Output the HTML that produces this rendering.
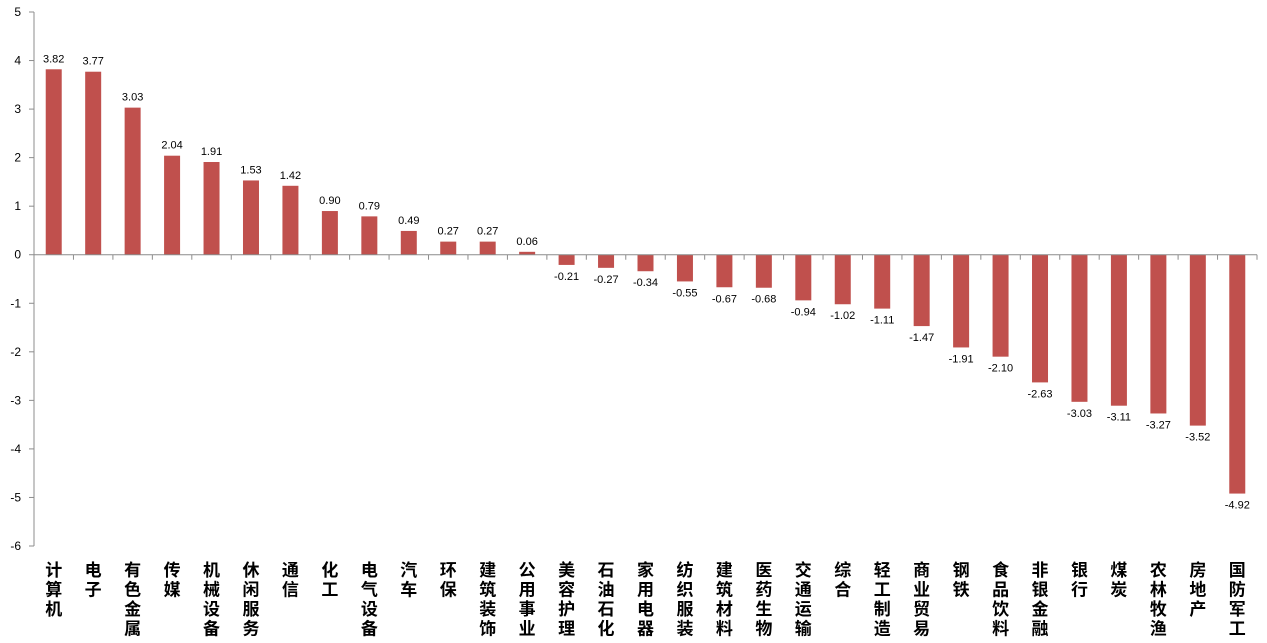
<!DOCTYPE html>
<html><head><meta charset="utf-8"><style>
body{margin:0;background:#fff;}
svg{display:block;font-family:"Liberation Sans","Noto Sans CJK SC",sans-serif;}
</style></head><body>
<svg id="chart" width="1267" height="643" viewBox="0 0 1267 643"></svg>
<script>
const categories=["计算机","电子","有色金属","传媒","机械设备","休闲服务","通信","化工","电气设备","汽车","环保","建筑装饰","公用事业","美容护理","石油石化","家用电器","纺织服装","建筑材料","医药生物","交通运输","综合","轻工制造","商业贸易","钢铁","食品饮料","非银金融","银行","煤炭","农林牧渔","房地产","国防军工"];
const values=[3.82,3.77,3.03,2.04,1.91,1.53,1.42,0.90,0.79,0.49,0.27,0.27,0.06,-0.21,-0.27,-0.34,-0.55,-0.67,-0.68,-0.94,-1.02,-1.11,-1.47,-1.91,-2.10,-2.63,-3.03,-3.11,-3.27,-3.52,-4.92];
const yTicks=[5,4,3,2,1,0,-1,-2,-3,-4,-5,-6];
const NS="http://www.w3.org/2000/svg";
const svg=document.getElementById("chart");
const x0=34,x1=1257,yTop=12,yBot=546,yMax=5,yMin=-6;
const y=v=>yTop+(yMax-v)/(yMax-yMin)*(yBot-yTop);
const bw=(x1-x0)/categories.length;
const xc=i=>x0+bw*(i+0.5);
function mk(tag,attrs){const e=document.createElementNS(NS,tag);for(const k in attrs)e.setAttribute(k,attrs[k]);svg.appendChild(e);return e;}
const ax=mk("line",{x1:x0,y1:yTop,x2:x0,y2:yBot,stroke:"#8c8c8c","stroke-width":1});


yTicks.forEach(t=>{
  const tk=mk("line",{x1:x0-5,y1:y(t),x2:x0,y2:y(t),stroke:"#8c8c8c"});
  
  
  const tx=mk("text",{x:x0-13,y:y(t)+4,"text-anchor":"end","font-size":12,fill:"#000"});
  tx.textContent=t;
  
  
});
categories.forEach((c,i)=>{
  const v=values[i];
  const top=Math.min(y(v),y(0)),h=Math.abs(y(v)-y(0));
  const r=mk("rect",{x:xc(i)-8,y:top,width:16,height:h,fill:"#c0504d"});
  
  
  const vl=mk("text",{x:xc(i),y:v>=0?y(v)-7:y(v)+15,"text-anchor":"middle","font-size":11,fill:"#000"});
  vl.textContent=v.toFixed(2);
  
  
  const tk=mk("line",{x1:x0+bw*(i+1),y1:y(0),x2:x0+bw*(i+1),y2:y(0)+5,stroke:"#8c8c8c"});
  
  
  [...c].forEach((ch,j)=>{
    const t=mk("text",{x:xc(i),y:576+j*19.5,"text-anchor":"middle","font-size":17,"font-weight":"bold",fill:"#000"});
    t.textContent=ch;
    
    
  });
});
const zl=mk("line",{x1:x0,y1:y(0),x2:x1,y2:y(0),stroke:"#8c8c8c"});


</script>
</body></html>
